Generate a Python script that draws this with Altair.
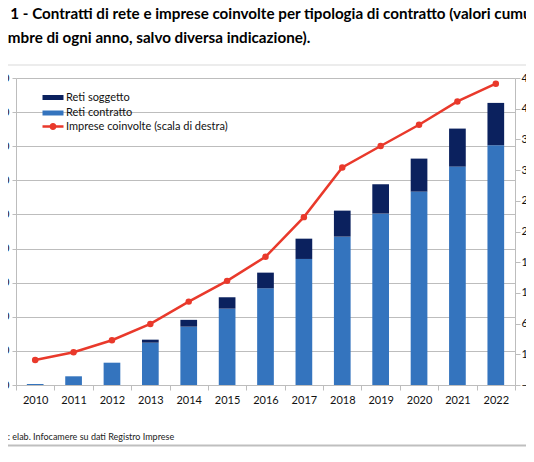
import altair as alt
import pandas as pd

# ---------------- data ----------------
years = [str(y) for y in range(2010, 2023)]
reti_contratto = [30, 255, 654, 1241, 1710, 2238, 2835, 3695, 4349, 5024, 5670, 6403, 7029]
reti_soggetto = [0, 0, 0, 88, 200, 334, 459, 595, 763, 861, 967, 1114, 1241]
imprese = [80, 1330, 3290, 5950, 9580, 12960, 16870, 23340, 31430, 34920, 38390, 42190, 45070]

series_names = ["Reti soggetto", "Reti contratto"]
line_name = "Imprese coinvolte (scala di destra)"
title_lines = [
    "Graf. 1 - Contratti di rete e imprese coinvolte per tipologia di contratto (valori cumulati al 31",
    "dicembre di ogni anno, salvo diversa indicazione).",
]
source_text = "Fonte: elab. Infocamere su dati Registro Imprese"
left_ticks = list(range(0, 9001, 1000))
right_ticks = list(range(-4000, 46001, 5000))

# ---------------- styles ----------------
FONT = "Lato"
NAVY = "#0B215E"
BLUE = "#3474BE"
RED = "#E9392B"
GRID = "#BDBDBD"
LABEL = "#111111"
IT_FMT = "replace(format(datum.value, ','), ',', '.')"

rows = []
for i, yr in enumerate(years):
    rows.append({"anno": yr, "serie": "Reti contratto", "valore": reti_contratto[i], "ord": 0})
    rows.append({"anno": yr, "serie": "Reti soggetto", "valore": reti_soggetto[i], "ord": 1})
bars_df = pd.DataFrame(rows)
line_df = pd.DataFrame({"anno": years, "imprese": imprese, "serie": [line_name] * len(years)})

x_enc = alt.X(
    "anno:N",
    sort=years,
    scale=alt.Scale(paddingInner=0, paddingOuter=0),
    axis=alt.Axis(
        title=None, labelAngle=0, tickBand="extent", tickSize=5, tickColor=GRID,
        domainColor=GRID, labelPadding=4, labelFontSize=11, labelFont=FONT,
        labelColor=LABEL, grid=False,
    ),
)

rect_path = "M-2.1,-0.5H2.1V0.5H-2.1Z"
line_dot_path = "M-2.1,-0.25H2.1V0.25H-2.1Z M0.7,0A0.7,0.7,0,1,1,-0.7,0A0.7,0.7,0,1,1,0.7,0Z"

bars = alt.Chart(bars_df).mark_bar(width=alt.RelativeBandSize(0.435)).encode(
    x=x_enc,
    y=alt.Y(
        "valore:Q", stack="zero",
        scale=alt.Scale(domain=[0, 9000], nice=False, zero=True),
        axis=alt.Axis(
            title=None, values=left_ticks, labelExpr=IT_FMT, grid=True, gridColor=GRID,
            tickSize=4, tickColor=GRID, domainColor=GRID, labelFont=FONT, labelFontSize=11,
            labelColor=LABEL, labelPadding=3,
        ),
    ),
    color=alt.Color(
        "serie:N",
        scale=alt.Scale(domain=series_names, range=[NAVY, BLUE]),
        legend=alt.Legend(
            title=None, orient="none", legendX=31.5, legendY=14, padding=0,
            symbolType=rect_path, symbolSize=100, symbolStrokeWidth=0,
            labelOffset=7.5, labelFont=FONT, labelFontSize=11, labelColor=LABEL,
            rowPadding=3.5, labelLimit=300,
        ),
    ),
    order=alt.Order("ord:Q"),
)

y_right = alt.Y(
    "imprese:Q",
    scale=alt.Scale(domain=[-4000, 46000], nice=False, zero=False),
    axis=alt.Axis(
        orient="right", title=None, values=right_ticks, labelExpr=IT_FMT, grid=False,
        tickSize=5, tickColor=GRID, domainColor=GRID, labelFont=FONT, labelFontSize=11,
        labelColor=LABEL, labelPadding=1,
    ),
)

line = alt.Chart(line_df).mark_line(color=RED, strokeWidth=2.5).encode(x=x_enc, y=y_right)
points = alt.Chart(line_df).mark_point(filled=True, size=42, opacity=1).encode(
    x=x_enc,
    y=y_right,
    color=alt.Color(
        "serie:N",
        scale=alt.Scale(domain=[line_name], range=[RED]),
        legend=alt.Legend(
            title=None, orient="none", legendX=31.5, legendY=43, padding=0,
            symbolType=line_dot_path, symbolSize=100, symbolStrokeWidth=0,
            symbolFillColor=RED, labelOffset=7.5, labelFont=FONT, labelFontSize=11,
            labelColor=LABEL, labelLimit=300,
        ),
    ),
)

one = pd.DataFrame({"k": [0]})
title1 = alt.Chart(pd.DataFrame({"t": [title_lines[0]]})).mark_text(
    align="left", baseline="alphabetic", font=FONT, fontWeight="bold", fontSize=15.2, color="#000"
).encode(x=alt.value(-42.2), y=alt.value(-58.7), text="t:N")
title2 = alt.Chart(pd.DataFrame({"t": [title_lines[1]]})).mark_text(
    align="left", baseline="alphabetic", font=FONT, fontWeight="bold", fontSize=15.2, color="#000"
).encode(x=alt.value(-35.9), y=alt.value(-35.3), text="t:N")
source = alt.Chart(pd.DataFrame({"t": [source_text]})).mark_text(
    align="left", baseline="middle", font=FONT, fontSize=9, color="#222"
).encode(x=alt.value(-31), y=alt.value(359), text="t:N")
top_rule = alt.Chart(one).mark_rule(color="#D9D9D9", strokeWidth=1).encode(
    x=alt.value(-20), x2=alt.value(530), y=alt.value(-13)
)
bottom_rule = alt.Chart(one).mark_rule(color="#BFBFBF", strokeWidth=2).encode(
    x=alt.value(-20), x2=alt.value(530), y=alt.value(367.5)
)

chart = alt.layer(
    bars, alt.layer(line, points), title1, title2, source, top_rule, bottom_rule
).resolve_scale(y="independent", color="independent").properties(
    width=499, height=307,
    padding={"left": 8, "top": 70, "right": 11, "bottom": 63},
    autosize=alt.AutoSizeParams(type="none"),
).configure_view(stroke=None)

chart.save("out.html", embed_options={"renderer": "svg", "actions": False})
